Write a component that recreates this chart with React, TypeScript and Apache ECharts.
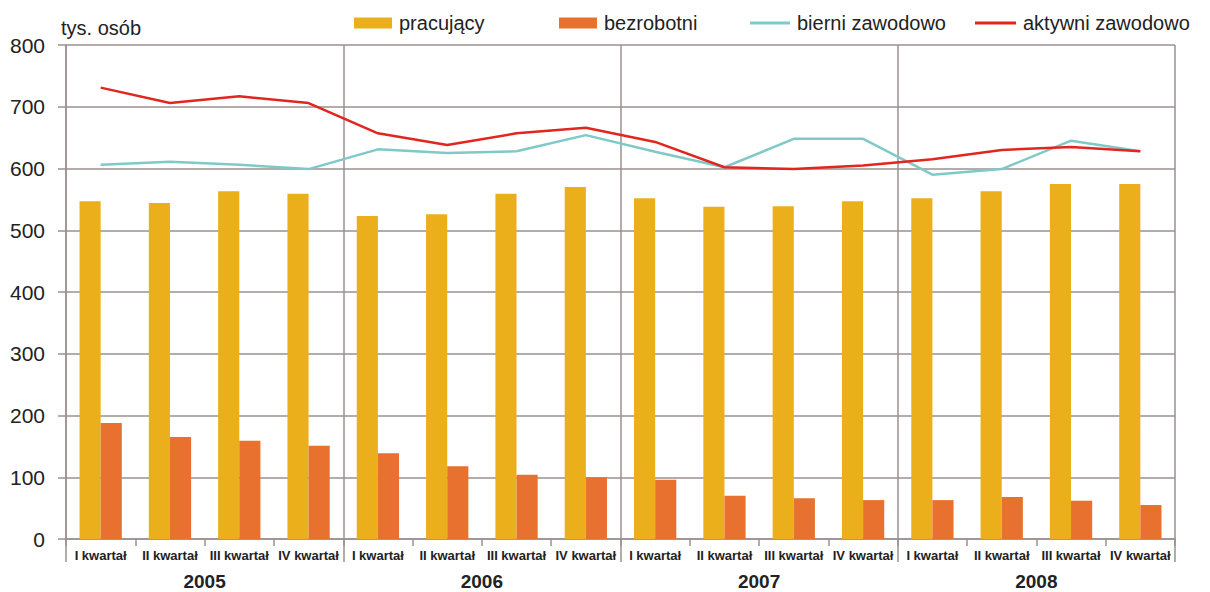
import React, { useEffect, useRef } from "react";
import * as echarts from "echarts";

const quarters = [
  "I kwartał", "II kwartał", "III kwartał", "IV kwartał",
  "I kwartał", "II kwartał", "III kwartał", "IV kwartał",
  "I kwartał", "II kwartał", "III kwartał", "IV kwartał",
  "I kwartał", "II kwartał", "III kwartał", "IV kwartał",
];
const years = ["2005", "2006", "2007", "2008"];

const pracujacy = [547, 544, 563, 559, 523, 526, 559, 570, 552, 538, 539, 547, 552, 563, 575, 575];
const bezrobotni = [188, 165, 159, 151, 139, 118, 104, 100, 96, 70, 66, 63, 63, 68, 62, 55];
const bierni = [606, 611, 606, 599, 631, 625, 628, 654, 627, 602, 648, 648, 590, 599, 645, 628];
const aktywni = [731, 706, 717, 706, 657, 638, 657, 666, 643, 602, 599, 605, 615, 630, 635, 628];

const FONT = "'Liberation Sans', Arial, sans-serif";
const GRID_COLOR = "#9a918f";
const TEXT = "#222222";

export default function App() {
  const ref = useRef<HTMLDivElement>(null);
  useEffect(() => {
    if (!ref.current) return;
    const chart = echarts.init(ref.current, undefined, { renderer: "svg" });
    const legendBase = (left: number, name: string, iw: number, ih: number, color: string) => ({
      left,
      top: 8,
      orient: "horizontal",
      itemWidth: iw,
      itemHeight: ih,
      selectedMode: false,
      data: [{ name, icon: "rect", itemStyle: { color } }],
      textStyle: { fontSize: 20, color: TEXT, fontFamily: FONT, padding: [0, 0, 0, 2] },
    });
    chart.setOption({
      animation: false,
      textStyle: { fontFamily: FONT },
      grid: { left: 66, right: 35, top: 45, bottom: 53, containLabel: false },
      legend: [
        legendBase(349, "pracujący", 38, 11, "#ECAF1C"),
        legendBase(554, "bezrobotni", 38, 11, "#E8712F"),
        legendBase(745, "bierni zawodowo", 40, 3, "#7FC9C9"),
        legendBase(970, "aktywni zawodowo", 41, 3, "#E0261F"),
      ],
      xAxis: [
        {
          type: "category",
          data: quarters,
          boundaryGap: true,
          axisLine: { show: true, lineStyle: { color: GRID_COLOR, width: 1.5 } },
          axisTick: { show: true, interval: 0, length: 7, lineStyle: { color: GRID_COLOR, width: 1.5 } },
          axisLabel: { interval: 0, fontSize: 13, fontWeight: "bold", color: TEXT, margin: 10, fontFamily: FONT },
          splitLine: { show: false },
        },
        {
          type: "category",
          data: years,
          position: "bottom",
          boundaryGap: true,
          axisLine: { show: false },
          axisTick: { show: true, interval: 0, length: 23, lineStyle: { color: GRID_COLOR, width: 1.5 } },
          axisLabel: { interval: 0, fontSize: 19, fontWeight: "bold", color: TEXT, margin: 33, fontFamily: FONT },
          splitLine: { show: true, interval: 0, lineStyle: { color: GRID_COLOR, width: 1.5 } },
        },
      ],
      yAxis: {
        type: "value",
        min: 0,
        max: 800,
        interval: 100,
        name: "tys. osób",
        nameLocation: "end",
        nameGap: 7,
        nameTextStyle: { fontSize: 20, color: TEXT, align: "left", verticalAlign: "bottom", padding: [0, 0, 0, -5], fontFamily: FONT },
        axisLine: { show: true, lineStyle: { color: GRID_COLOR, width: 1.5 } },
        axisTick: { show: true, length: 8, lineStyle: { color: GRID_COLOR, width: 1.5 } },
        axisLabel: { fontSize: 21, color: TEXT, margin: 21, fontFamily: FONT },
        splitLine: { show: true, lineStyle: { color: GRID_COLOR, width: 1.5 } },
      },
      series: [
        {
          name: "pracujący",
          type: "bar",
          data: pracujacy,
          barGap: "0%",
          barCategoryGap: "39%",
          itemStyle: { color: "#ECAF1C" },
        },
        {
          name: "bezrobotni",
          type: "bar",
          data: bezrobotni,
          itemStyle: { color: "#E8712F" },
        },
        {
          name: "bierni zawodowo",
          type: "line",
          data: bierni,
          symbol: "none",
          showSymbol: false,
          lineStyle: { color: "#7FC9C9", width: 2.5 },
          itemStyle: { color: "#7FC9C9" },
        },
        {
          name: "aktywni zawodowo",
          type: "line",
          data: aktywni,
          symbol: "none",
          showSymbol: false,
          lineStyle: { color: "#E0261F", width: 2.5 },
          itemStyle: { color: "#E0261F" },
        },
      ],
    });
    return () => chart.dispose();
  }, []);
  return (
    <div
      ref={ref}
      style={{ position: "fixed", left: 0, top: 0, width: 1210, height: 592, background: "#ffffff" }}
    />
  );
}
